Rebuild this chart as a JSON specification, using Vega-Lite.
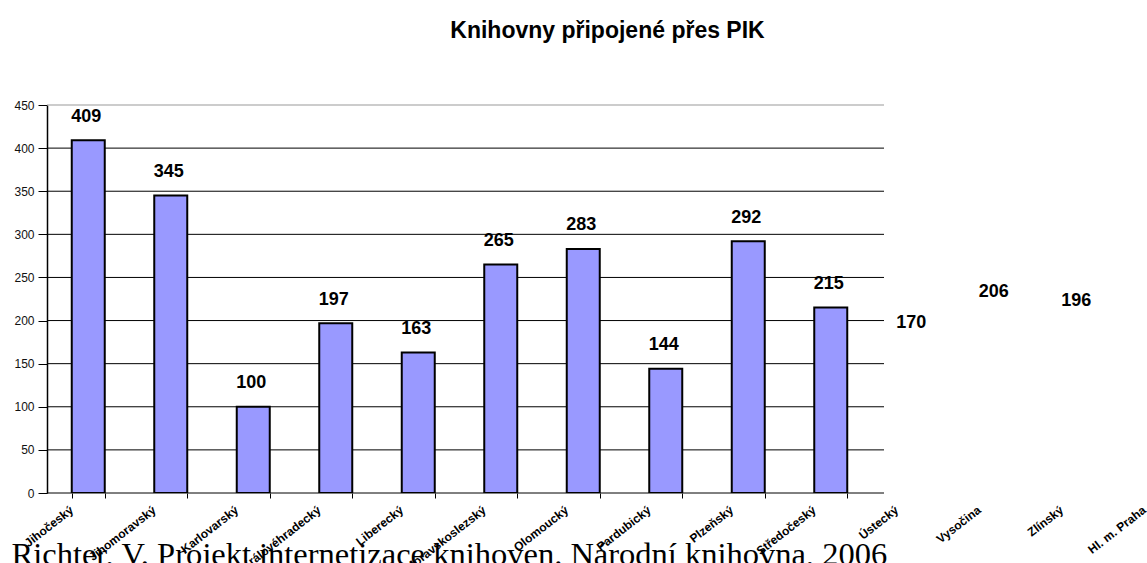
{
  "$schema": "https://vega.github.io/schema/vega-lite/v6.json",
  "width": 837,
  "height": 388,
  "autosize": {"type": "none"},
  "padding": {"left": 47, "top": 105, "right": 263, "bottom": 70},
  "background": "white",
  "title": {
    "text": "Knihovny připojené přes PIK",
    "font": "Liberation Sans",
    "fontSize": 23,
    "fontWeight": "bold",
    "color": "black",
    "anchor": "middle",
    "dx": 142,
    "offset": 56
  },
  "config": {
    "view": {"stroke": null},
    "font": "Liberation Sans"
  },
  "datasets": {
    "kraje": [
      {"kraj": "Jihočeský", "pocet": 409},
      {"kraj": "Jihomoravský", "pocet": 345},
      {"kraj": "Karlovarský", "pocet": 100},
      {"kraj": "Královéhradecký", "pocet": 197},
      {"kraj": "Liberecký", "pocet": 163},
      {"kraj": "Moravskoslezský", "pocet": 265},
      {"kraj": "Olomoucký", "pocet": 283},
      {"kraj": "Pardubický", "pocet": 144},
      {"kraj": "Plzeňský", "pocet": 292},
      {"kraj": "Středočeský", "pocet": 215},
      {"kraj": "Ústecký", "pocet": 170},
      {"kraj": "Vysočina", "pocet": 206},
      {"kraj": "Zlínský", "pocet": 196},
      {"kraj": "Hl. m. Praha", "pocet": 82}
    ],
    "mrizka": [
      {"g": 0}, {"g": 50}, {"g": 100}, {"g": 150}, {"g": 200},
      {"g": 250}, {"g": 300}, {"g": 350}, {"g": 400}, {"g": 450}
    ]
  },
  "layer": [
    {
      "data": {"name": "mrizka"},
      "mark": {"type": "rule", "strokeWidth": 1},
      "encoding": {
        "y": {
          "field": "g",
          "type": "quantitative",
          "scale": {"domain": [0, 450], "nice": false},
          "axis": {
            "values": [0, 50, 100, 150, 200, 250, 300, 350, 400, 450],
            "title": null,
            "domain": true,
            "domainColor": "black",
            "domainWidth": 1.5,
            "grid": false,
            "ticks": true,
            "tickSize": 9,
            "tickColor": "black",
            "labelPadding": 4,
            "labelFont": "Liberation Sans",
            "labelFontSize": 12,
            "labelColor": "#111111"
          }
        },
        "color": {
          "condition": {"test": "datum.g == 450", "value": "#999999"},
          "value": "black"
        },
        "strokeWidth": {
          "condition": {"test": "datum.g == 450", "value": 2},
          "value": 1
        }
      }
    },
    {
      "data": {"name": "kraje"},
      "mark": {"type": "bar", "clip": true, "fill": "#9999FF", "stroke": "black", "strokeWidth": 2},
      "encoding": {
        "x": {
          "field": "kraj",
          "type": "nominal",
          "sort": null,
          "scale": {
            "domain": ["Jihočeský", "Jihomoravský", "Karlovarský", "Královéhradecký", "Liberecký", "Moravskoslezský", "Olomoucký", "Pardubický", "Plzeňský", "Středočeský", "Ústecký", "Vysočina", "Zlínský", "Hl. m. Praha"],
            "range": [0, 1155],
            "paddingInner": 0.6,
            "paddingOuter": 0.3
          },
          "axis": {
            "domain": false,
            "grid": false,
            "ticks": true,
            "tickBand": "extent",
            "tickSize": 5,
            "tickColor": "black",
            "tickWidth": 1,
            "tickOpacity": {
              "condition": {"test": "indexof(['Ústecký','Vysočina','Zlínský','Hl. m. Praha'], datum.value) >= 0", "value": 0},
              "value": 1
            },
            "labelAngle": -38,
            "labelAlign": "right",
            "labelBaseline": "middle",
            "labelOffset": -17,
            "labelPadding": 10,
            "labelFont": "Liberation Sans",
            "labelFontSize": 12,
            "labelFontWeight": "bold",
            "labelColor": "black",
            "labelOverlap": false,
            "labelLimit": 0,
            "title": "Richter, V. Projekt internetizace knihoven. Národní knihovna, 2006",
            "titleFont": "Liberation Serif",
            "titleFontSize": 32.5,
            "titleFontWeight": "normal",
            "titleColor": "black",
            "titleAlign": "left",
            "titleAnchor": "start",
            "titleBaseline": "alphabetic",
            "titleX": -36,
            "titleY": 71
          }
        },
        "y": {
          "field": "pocet",
          "type": "quantitative",
          "scale": {"domain": [0, 450], "nice": false}
        }
      }
    },
    {
      "data": {"name": "kraje"},
      "mark": {"type": "text", "font": "Liberation Sans", "fontSize": 18, "fontWeight": "bold", "color": "black", "baseline": "alphabetic", "align": "center", "dy": -18.5, "dx": -2},
      "encoding": {
        "x": {"field": "kraj", "type": "nominal", "sort": null},
        "y": {"field": "pocet", "type": "quantitative"},
        "text": {"field": "pocet", "type": "quantitative"}
      }
    }
  ]
}
